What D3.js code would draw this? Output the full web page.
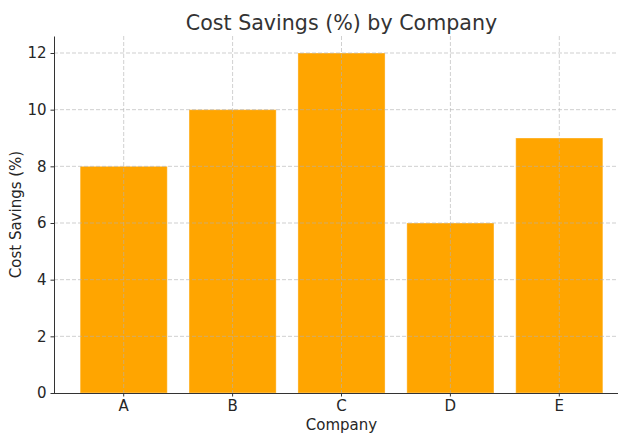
<!DOCTYPE html>
<html><head><meta charset="utf-8">
<script src="https://cdn.jsdelivr.net/npm/d3@7"></script>
<style>body{margin:0;background:#fff}svg{display:block}text{font-family:"DejaVu Sans",sans-serif}</style>
</head><body>
<svg id="c" width="618" height="434"></svg>
<script>
const categories = ["A","B","C","D","E"];
const values = [8,10,12,6,9];
const yTicks = [0,2,4,6,8,10,12];

(function(){
const svg = d3.select("#c");
const mL = 54, mR = 629, mT = 36, mB = 393;
const step = (mR-mL)/5.28;
const x = d3.scaleBand().domain(categories)
  .range([mL + 0.14*step, mR - 0.14*step]).paddingInner(0.2).paddingOuter(0.1);
const y = d3.scaleLinear().domain([0,12.6]).range([mB, mT]);

// bars
svg.append("g").selectAll("rect").data(values).join("rect")
  .attr("x",(d,i)=>x(categories[i])).attr("width",x.bandwidth())
  .attr("y",d=>y(d)).attr("height",d=>y(0)-y(d))
  .attr("fill","#FFA500").attr("stroke","rgba(255,255,255,0.35)").attr("stroke-width",1);

// grid
const grid = svg.append("g").attr("stroke","#b0b0b0").attr("stroke-opacity",0.75)
  .attr("stroke-dasharray","4,2").attr("stroke-width",0.8);
grid.selectAll("line.h").data(yTicks.slice(1)).join("line").attr("class","h")
  .attr("x1",mL).attr("x2",618).attr("y1",d=>y(d)).attr("y2",d=>y(d));
grid.selectAll("line.v").data(categories).join("line").attr("class","v")
  .attr("x1",d=>x(d)+x.bandwidth()/2).attr("x2",d=>x(d)+x.bandwidth()/2).attr("y1",mT).attr("y2",mB);

// axes
const xa = svg.append("g").attr("transform",`translate(0,${mB})`)
  .call(d3.axisBottom(x).tickSize(3.5).tickPadding(4).tickSizeOuter(0));
const ya = svg.append("g").attr("transform",`translate(${mL},0)`)
  .call(d3.axisLeft(y).tickValues(yTicks).tickFormat(d3.format("d")).tickSize(3.5).tickPadding(4).tickSizeOuter(0));
[xa,ya].forEach(a=>{
  a.selectAll("path").attr("stroke","#333").attr("stroke-width",1);
  a.selectAll("line").attr("stroke","#333");
  a.selectAll("text").attr("fill","#262626").style("font-size","15px").style("font-family","DejaVu Sans");
});
xa.select("path.domain").attr("d",`M${mL},0.5H618`);

// labels
svg.append("text").attr("x",(mL+mR)/2).attr("y",30).attr("text-anchor","middle")
  .attr("fill","#333").style("font-size","20.6px").text("Cost Savings (%) by Company");
svg.append("text").attr("x",(mL+mR)/2).attr("y",430).attr("text-anchor","middle")
  .attr("fill","#262626").style("font-size","15px").text("Company");
svg.append("text").attr("transform",`translate(21,${(mT+mB)/2}) rotate(-90)`).attr("text-anchor","middle")
  .attr("fill","#262626").style("font-size","15px").text("Cost Savings (%)");
})();
</script>
</body></html>
